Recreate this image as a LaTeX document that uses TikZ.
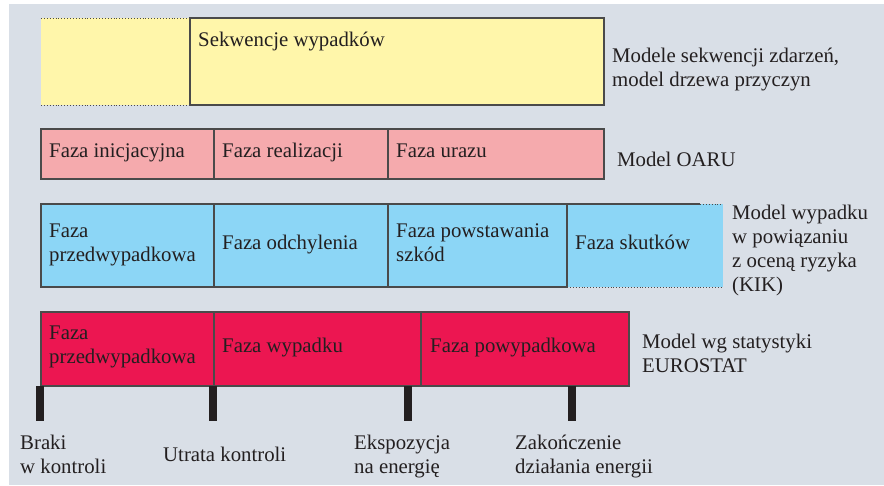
\documentclass[tikz,border=0pt]{standalone}
\usepackage{fontspec}
\setmainfont{Liberation Serif}
\definecolor{tlo}{HTML}{D9DFE7}
\definecolor{zolty}{HTML}{FFF6AA}
\definecolor{rozowy}{HTML}{F5AAAD}
\definecolor{niebieski}{HTML}{8CD6F6}
\definecolor{czerwony}{HTML}{EC1651}
\definecolor{linia}{HTML}{4A4A4A}
\definecolor{tekst}{HTML}{231F20}

\begin{document}
\begin{tikzpicture}[x=1pt,y=-1pt,
  ramka/.style={draw=linia,line width=1.1pt},
  kropki/.style={draw=linia,line width=0.9pt,dotted},
  napis/.style={anchor=base west,inner sep=0pt,text=tekst,align=left,
    font=\fontsize{20.8}{24}\selectfont},
  znacznik/.style={draw=tekst,line width=7.5pt}]
\useasboundingbox (0,0) rectangle (884,485);
\fill[tlo] (9,4) rectangle (884,485);

\fill[zolty] (41,18) rectangle (604,105);
\draw[kropki] (41,18) -- (190,18) (41,105) -- (190,105);
\draw[ramka] (190,18) -- (604,18) -- (604,105) -- (190,105) -- cycle;
\node[napis] (sekwencje) at (198,46) {Sekwencje wypadków};
\node[napis] (modele) at (612,86) {Modele sekwencji zdarzeń,\\model drzewa przyczyn};

\draw[ramka,fill=rozowy] (41,129) rectangle (604,179);
\draw[ramka] (214,129) -- (214,179) (388,129) -- (388,179);
\node[napis] (inicjacyjna) at (49,157) {Faza inicjacyjna};
\node[napis] (realizacji) at (222,157) {Faza realizacji};
\node[napis] (urazu) at (396,157) {Faza urazu};
\node[napis] (oaru) at (617,166) {Model OARU};

\fill[niebieski] (41,204) rectangle (723,287);
\draw[ramka] (700,204) -- (41,204) -- (41,287) -- (567,287);
\draw[ramka] (214,204) -- (214,287) (388,204) -- (388,287) (567,204) -- (567,287);
\draw[kropki] (700,204) -- (723,204) (567,287) -- (723,287);
\node[napis] (przed1) at (49,261) {Faza\\przedwypadkowa};
\node[napis] (odchylenia) at (222,249) {Faza odchylenia};
\node[napis] (szkod) at (396,261) {Faza powstawania\\szkód};
\node[napis] (skutkow) at (575,249) {Faza skutków};
\node[napis] (kik) at (732,291) {Model wypadku\\w powiązaniu\\z oceną ryzyka\\(KIK)};

\draw[ramka,fill=czerwony] (41,312) rectangle (629,386);
\draw[ramka] (214,312) -- (214,386) (421,312) -- (421,386);
\node[napis] (przed2) at (49,363) {Faza\\przedwypadkowa};
\node[napis] (wypadku) at (222,352) {Faza wypadku};
\node[napis] (powypadkowa) at (430,352) {Faza powypadkowa};
\node[napis] (eurostat) at (642,372) {Model wg statystyki\\EUROSTAT};

\foreach \x in {40,213,408,572}
  \draw[znacznik] (\x,386) -- (\x,421);

\node[napis] (braki) at (20,473) {Braki\\w kontroli};
\node[napis] (utrata) at (163,461) {Utrata kontroli};
\node[napis] (ekspozycja) at (354,473) {Ekspozycja\\na energię};
\node[napis] (zakonczenie) at (515,473) {Zakończenie\\działania energii};
\end{tikzpicture}
\end{document}
